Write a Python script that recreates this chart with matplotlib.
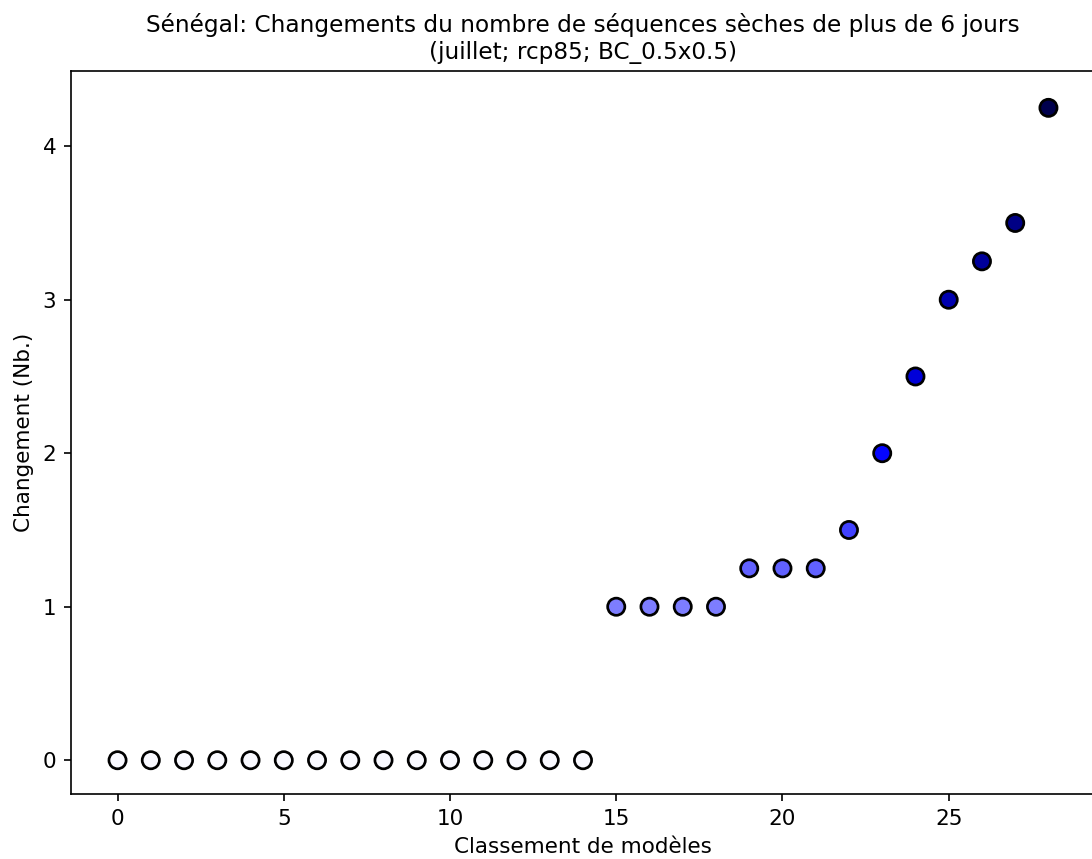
import matplotlib
matplotlib.use("Agg")
import matplotlib.pyplot as plt
from matplotlib.colors import Normalize

# classement des modeles et changement (Nb.)
rangs = list(range(29))
changements = [0, 0, 0, 0, 0, 0, 0, 0, 0, 0, 0, 0, 0, 0, 0,
               1, 1, 1, 1, 1.25, 1.25, 1.25, 1.5, 2, 2.5, 3, 3.25, 3.5, 4.25]

titre = ("Sénégal: Changements du nombre de séquences sèches de plus de 6 jours\n"
         "(juillet; rcp85; BC_0.5x0.5)")

fig = plt.figure(figsize=(1092 / 150, 859 / 150), dpi=150)
ax = fig.add_axes([71 / 1092, (859 - 794) / 859, (1095 - 71) / 1092, (794 - 71) / 859])

# echelle de couleur legerement decalee: 0 presque blanc, 1 -> #8080ff
ax.scatter(rangs, changements, c=changements, cmap="seismic_r",
           norm=Normalize(vmin=-4.32, vmax=4.19),
           s=68, edgecolors="black", linewidths=1.3, zorder=3)

ax.set_title(titre, fontsize=11.1)
ax.set_xlabel("Classement de modèles", fontsize=10.3)
ax.set_ylabel("Changement (Nb.)", fontsize=10.3)
ax.set_xticks([0, 5, 10, 15, 20, 25])
ax.set_yticks([0, 1, 2, 3, 4])
ax.set_ylim(-0.22, 4.49)
ax.tick_params(labelsize=10.3)

fig.savefig("out.png", dpi=150)
